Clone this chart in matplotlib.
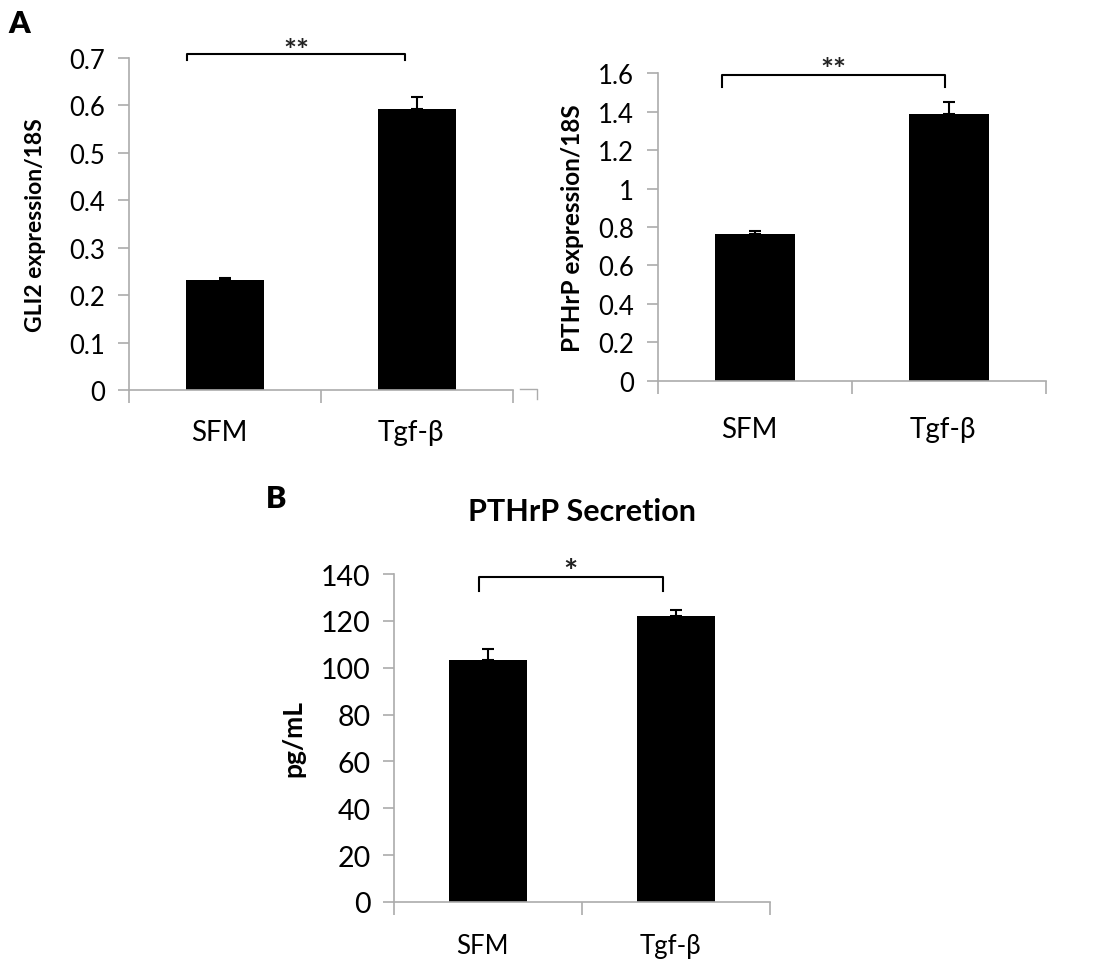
import numpy as np
import matplotlib
matplotlib.use('Agg')
import matplotlib.pyplot as plt

plt.rcParams['font.family'] = ['Lato', 'DejaVu Sans']

# data
groups = ['SFM', 'Tgf-β']
gli2_vals = [0.232, 0.592]
gli2_err = [0.005, 0.025]
pthrp_vals = [0.765, 1.385]
pthrp_err = [0.015, 0.065]
secr_vals = [103.5, 122.0]
secr_err = [4.5, 2.5]

GRAY = '#acacac'

fig = plt.figure(figsize=(11, 9.7), dpi=100)


def bar_panel(rect, vals, errs, ymax, ystep, ylabel, tick_fs, lab_fs, xlab_fs,
              fmt, xlab_y, ylab_x):
    ax = fig.add_axes(rect)
    x = np.arange(len(vals))
    ax.bar(x, vals, width=0.41, color='black', zorder=2)
    ax.errorbar(x, vals, yerr=[np.zeros(len(errs)), errs], fmt='none',
                ecolor='black', elinewidth=1.5, capsize=4, capthick=1.5, zorder=3)
    ax.set_xlim(-0.5, len(vals) - 0.5)
    ax.set_ylim(0, ymax)
    yt = np.arange(0, ymax + ystep / 2, ystep)
    ax.set_yticks(yt)
    ax.set_yticklabels([fmt(v) for v in yt], fontsize=tick_fs)
    ax.set_xticks(np.arange(-0.5, len(vals), 1.0))
    ax.set_xticklabels([])
    for i, g in enumerate(groups):
        ax.text(i - 0.03, xlab_y, g, transform=ax.get_xaxis_transform(), ha='center',
                va='center', fontsize=xlab_fs)
    for s in ['top', 'right']:
        ax.spines[s].set_visible(False)
    for s in ['left', 'bottom']:
        ax.spines[s].set_color(GRAY)
        ax.spines[s].set_linewidth(1.2)
    ax.tick_params(axis='y', direction='out', length=8, color=GRAY, width=1.2, pad=9)
    ax.tick_params(axis='x', direction='out', length=9, color=GRAY, width=1.2)
    ax.set_ylabel(ylabel, fontsize=lab_fs, fontweight='bold')
    ax.yaxis.set_label_coords(ylab_x, 0.5)
    return ax


def bracket(ax, x0, x1, ytop, ybot, stars, ystar, fs):
    ax.plot([x0, x0, x1, x1], [ybot, ytop, ytop, ybot], color='black', lw=1.5,
            clip_on=False, zorder=4)
    ax.text((x0 + x1) / 2, ystar, stars, ha='center', va='baseline', fontsize=fs,
            fontweight='bold', color='#222222')


def f1(v):
    return '0' if v == 0 else ('%.1f' % v)


def f2(v):
    if abs(v - round(v)) < 1e-9:
        return '%d' % round(v)
    return '%.1f' % v


ax1 = bar_panel([0.1173, 0.5969, 0.349, 0.3423], gli2_vals, gli2_err, 0.7, 0.1,
                'GLI2 expression/18S', 18.5, 16.5, 20, f1, -0.127, -0.215)
bracket(ax1, -0.20, 0.94, 0.708, 0.696, '**', 0.696, 22)

ax2 = bar_panel([0.598, 0.6062, 0.3527, 0.3175], pthrp_vals, pthrp_err, 1.6, 0.2,
                'PTHrP expression/18S', 18.5, 17.5, 20, f2, -0.156, -0.19)
bracket(ax2, -0.17, 0.98, 1.59, 1.527, '**', 1.569, 22)

ax3 = bar_panel([0.3582, 0.0691, 0.3418, 0.3381], secr_vals, secr_err, 140, 20,
                'pg/mL', 20.5, 19, 18.5, f2, -0.134, -0.235)
bracket(ax3, -0.05, 0.93, 138.7, 132.7, '*', 136.6, 24)
ax3.set_title('PTHrP Secretion', fontsize=22, fontweight='bold', pad=39)

fig.text(0.008, 0.975, 'A', fontsize=22, fontweight='heavy', ha='left', va='center')
fig.text(0.242, 0.514 - 0.028, 'B', fontsize=22, fontweight='heavy', ha='left', va='center')

# stray corner line left over in the source image
fig.add_artist(plt.Line2D([520 / 1100, 537 / 1100, 537 / 1100],
                          [1 - 390 / 970, 1 - 390 / 970, 1 - 400 / 970],
                          color=GRAY, lw=1))

fig.savefig('out.png', dpi=100)
